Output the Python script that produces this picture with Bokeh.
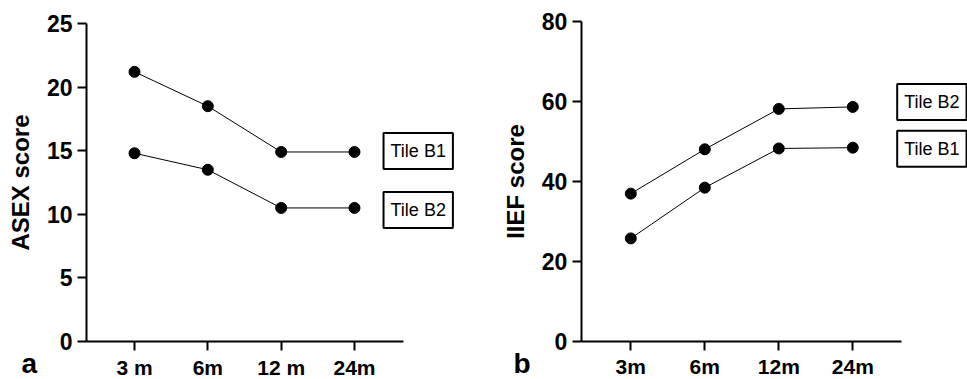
from bokeh.plotting import figure
from bokeh.layouts import row
from bokeh.models import FixedTicker, Label, Range1d, LinearAxis
from bokeh.embed import file_html
from bokeh.resources import INLINE

# ---- data ----
months_a = ["3 m", "6m", "12 m", "24m"]
months_b = ["3m", "6m", "12m", "24m"]
asex_b1 = [21.2, 18.5, 14.9, 14.9]
asex_b2 = [14.8, 13.5, 10.5, 10.5]
iief_b2 = [37.0, 48.1, 58.2, 58.7]
iief_b1 = [25.8, 38.5, 48.3, 48.5]
asex_ticks = [0, 5, 10, 15, 20, 25]
iief_ticks = [0, 20, 40, 60, 80]

FONT = "Liberation Sans"
H = 379


def panel(width, x_view, x_bounds, y_view, y_max, y_ticks, cats, ylabel,
          series, label_x, letter, letter_xy):
    xs = list(range(1, len(cats) + 1))
    p = figure(width=width, height=H,
               x_range=Range1d(*x_view), y_range=Range1d(*y_view),
               output_backend="svg", toolbar_location=None,
               x_axis_location=None, y_axis_location=None,
               min_border_left=0, min_border_right=0,
               min_border_top=0, min_border_bottom=0)
    p.outline_line_color = None
    p.xgrid.visible = False
    p.ygrid.visible = False
    p.background_fill_color = "white"
    p.border_fill_color = "white"

    for vals, name, off in series:
        p.line(xs, vals, line_color="black", line_width=1)
        p.scatter(xs, vals, size=11, fill_color="black", line_color="black")
        p.add_layout(Label(x=label_x, y=vals[-1], y_offset=off, text=name,
                           text_font=FONT, text_font_size="18px",
                           text_color="black",
                           text_align="left", text_baseline="middle",
                           border_line_color="black", border_line_width=2,
                           background_fill_color="white",
                           padding=dict(left=7, right=7, top=8, bottom=8)))

    xaxis = LinearAxis(fixed_location=0, bounds=x_bounds,
                       ticker=FixedTicker(ticks=xs),
                       major_label_overrides={x: c for x, c in zip(xs, cats)},
                       major_tick_out=9, major_label_standoff=5)
    yaxis = LinearAxis(fixed_location=x_bounds[0], bounds=(0, y_max),
                       ticker=FixedTicker(ticks=y_ticks),
                       major_tick_out=9, major_label_standoff=5,
                       axis_label=ylabel, axis_label_text_font=FONT,
                       axis_label_text_font_style="bold",
                       axis_label_text_font_size="24px",
                       axis_label_text_color="black",
                       axis_label_standoff=10)
    for ax in (xaxis, yaxis):
        ax.axis_line_width = 2
        ax.axis_line_color = "black"
        ax.major_tick_line_width = 2
        ax.major_tick_line_color = "black"
        ax.major_tick_in = 0
        ax.minor_tick_line_color = None
        ax.major_label_text_font = FONT
        ax.major_label_text_font_style = "bold"
        ax.major_label_text_color = "black"
    xaxis.major_label_text_font_size = "21px"
    yaxis.major_label_text_font_size = "23px"
    p.add_layout(xaxis, "below")
    p.add_layout(yaxis, "left")

    p.add_layout(Label(x=letter_xy[0], y=letter_xy[1], text=letter,
                       text_font=FONT, text_font_style="bold",
                       text_font_size="28px", text_color="black",
                       text_align="left", text_baseline="middle"))
    return p


p1 = panel(480, (-0.8273, 5.7182), (0.3455, 4.668), (-2.987, 26.808), 25,
           asex_ticks, months_a, "ASEX score",
           [(asex_b1, "Tile B1", 1), (asex_b2, "Tile B2", -2)],
           4.396, "a", (-0.541, -1.70))
p2 = panel(487, (-1.031, 5.55), (0.33, 4.654), (-9.51, 85.33), 80,
           iief_ticks, months_b, "IIEF score",
           [(iief_b2, "Tile B2", 5), (iief_b1, "Tile B1", -1)],
           4.60, "b", (-0.585, -5.41))

layout = row(p1, p2)
open("out.html", "w").write(file_html(layout, INLINE))
